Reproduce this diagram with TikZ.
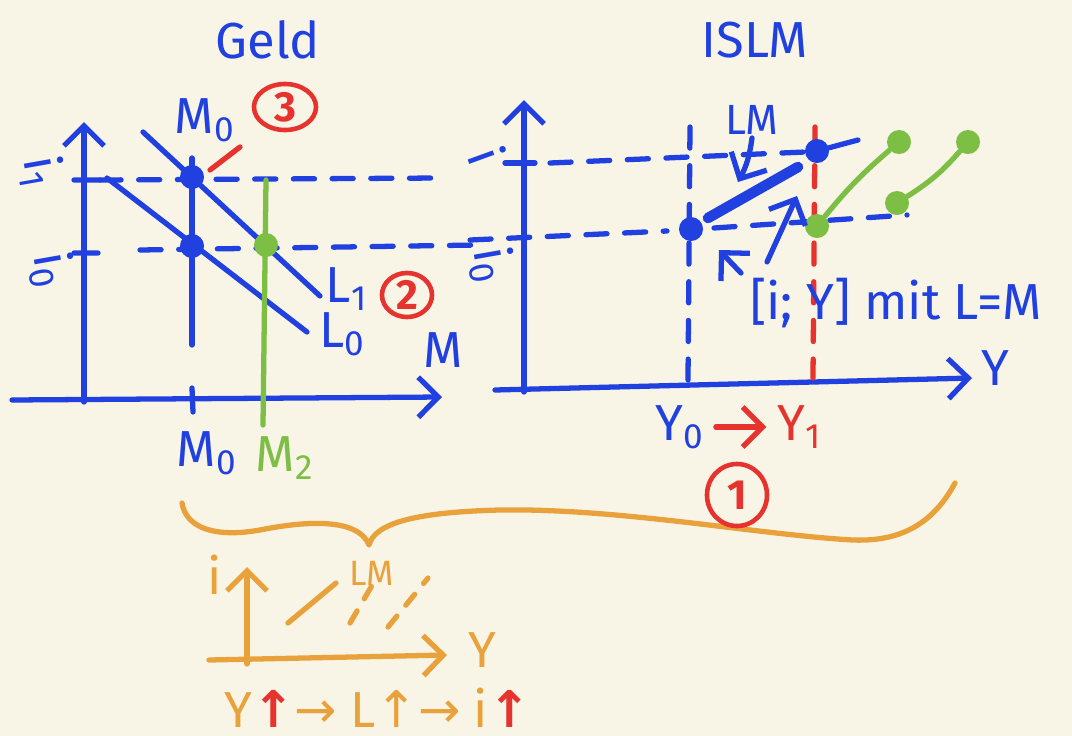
\documentclass[tikz,border=0pt]{standalone}
\usepackage{fontspec}
\setmainfont{Fira Sans}
\newfontfamily\arrowfont{DejaVu Sans}
\usetikzlibrary{arrows.meta,positioning,shapes.geometric}
\definecolor{Paper}{HTML}{F8F4E6}
\definecolor{Ink}{HTML}{2140E0}
\definecolor{Leaf}{HTML}{7DBE45}
\definecolor{Alarm}{HTML}{E6332E}
\definecolor{Amber}{HTML}{E9A23B}

\begin{document}
\begin{tikzpicture}[x=0.01cm,y=-0.01cm,
    pen/.style={line width=1.5pt,line cap=round,line join=round},
    axis/.style={pen,-{Straight Barb[length=2mm,width=4mm]}},
    guide/.style={pen,dash pattern=on 6pt off 5pt},
    dot/.style={circle,fill=#1,inner sep=0pt,minimum size=2.4mm},
    lbl/.style={font=\Large,text=Ink,inner sep=1pt},
    tag/.style={ellipse,draw=Alarm,text=Alarm,line width=1.3pt,inner sep=0pt,
      font=\large\bfseries}
  ]
    \fill[Paper] (0,0) rectangle (1072,736);
    \useasboundingbox (0,0) rectangle (1072,736);

    % Geld
    \node[lbl] (tgeld) at (268,40) {Geld};
    \coordinate (gx0) at (12,400);
    \coordinate (gx1) at (442,397);
    \coordinate (gy0) at (84,402);
    \coordinate (gy1) at (84,122);
    \draw[axis,Ink] (gx0)--(gx1);
    \draw[axis,Ink] (gy0)--(gy1);
    \draw[pen,Ink] (74,180)--(100,180) (74,253)--(98,253) (192,388)--(193,412);
    \draw[guide,Ink] (100,180)--(440,178);
    \draw[guide,Ink] (140,250)--(478,245);
    \draw[pen,Ink] (192,158)--(192,345);
    \draw[pen,Ink] (143,132)--(320,296);
    \draw[pen,Ink] (107,178)--(307,332);
    \draw[pen,Leaf] (266,180)--(263,425);
    \node[dot=Ink] (ga) at (192,177) {};
    \node[dot=Ink] (gb) at (192,246) {};
    \node[dot=Leaf] (gc) at (266,245) {};
    \node[lbl,rotate=-80] (li1) at (42,172) {i\textsubscript{1}};
    \node[lbl,rotate=-80] (li0) at (52,270) {i\textsubscript{0}};
    \node[lbl] (lm0t) at (205,120) {M\textsubscript{0}};
    \node[lbl] (lm0b) at (207,453) {M\textsubscript{0}};
    \node[lbl,text=Leaf] (lm2) at (285,458) {M\textsubscript{2}};
    \node[lbl] (ll1) at (347,289) {L\textsubscript{1}};
    \node[lbl] (ll0) at (343,334) {L\textsubscript{0}};
    \node[lbl] (lm) at (443,350) {M};
    \node[tag,minimum width=0.62cm,minimum height=0.46cm] (t3) at (285,107) {3};
    \draw[pen,Alarm] (210,170)--(240,147);
    \node[tag,minimum width=0.5cm,minimum height=0.44cm] (t2) at (407,295) {2};

    % IS LM
    \node[lbl] (tislm) at (755,40) {ISLM};
    \coordinate (rx0) at (495,390);
    \coordinate (rx1) at (972,378);
    \coordinate (ry0) at (524,392);
    \coordinate (ry1) at (524,100);
    \draw[axis,Ink] (rx0)--(rx1);
    \draw[axis,Ink] (ry0)--(ry1);
    \draw[pen,Ink] (505,163)--(535,163);
    \draw[guide,Ink] (550,163)--(805,152);
    \draw[guide,Ink] (470,240)--(667,231);
    \draw[guide,Ink] (714,228)--(907,215);
    \draw[guide,Ink] (690,127)--(688,380);
    \draw[guide,Alarm] (815,127)--(813,378);
    \node[dot=Ink] (ra) at (691,229) {};
    \node[dot=Ink] (rb) at (817,151) {};
    \node[dot=Leaf] (rc) at (817,226) {};
    \node[dot=Leaf] (rd) at (899,142) {};
    \node[dot=Leaf] (re) at (897,203) {};
    \node[dot=Leaf] (rf) at (968,142) {};
    \draw[pen,Ink] (rb)--(858,140);
    \draw[line width=3pt,line cap=round,Ink] (708,218)--(798,167);
    \draw[pen,Leaf] (rc) to[bend left=5] (rd);
    \draw[pen,Leaf] (re) to[bend right=8] (rf);
    \draw[axis,Ink] (752,138) to[bend left=10] (738,182);
    \draw[axis,Ink] (767,262)--(797,196);
    \draw[axis,Ink] (741,273)--(719,250);
    \node[lbl,font=\large] (llm) at (752,120) {LM};
    \node[lbl,rotate=-70] (ri1) at (487,155) {i};
    \node[lbl,rotate=-80] (ri0) at (492,265) {i\textsubscript{0}};
    \node[lbl] (ly) at (995,368) {Y};
    \node[lbl,anchor=west] (lpair) at (746,303) {[i; Y] mit L=M};
    \node[lbl] (ly0) at (680,427) {Y\textsubscript{0}};
    \node[lbl,text=Alarm] (ly1) at (800,427) {Y\textsubscript{1}};
    \draw[pen,Alarm,-{Straight Barb[length=2mm,width=4mm]},
      shorten <=2pt,shorten >=2pt] (ly0)--(ly1);

    % brace and small sketch
    \draw[pen,Amber] (182,503) .. controls (186,528) and (215,538) .. (260,530)
      .. controls (320,518) and (360,522) .. (369,545)
      .. controls (375,522) and (420,512) .. (500,510)
      .. controls (620,508) and (760,535) .. (853,540)
      .. controls (905,542) and (935,520) .. (955,483);
    \node[tag,minimum width=0.6cm,minimum height=0.62cm] (t1) at (737,495) {1};
    \coordinate (sx0) at (209,660);
    \coordinate (sx1) at (447,655);
    \coordinate (sy0) at (247,664);
    \coordinate (sy1) at (247,567);
    \draw[axis,Amber] (sx0)--(sx1);
    \draw[axis,Amber] (sy0)--(sy1);
    \draw[pen,Amber] (288,623)--(336,583);
    \draw[pen,Amber,dash pattern=on 4pt off 4pt] (350,623)--(377,577);
    \draw[pen,Amber,dash pattern=on 4pt off 4pt] (388,627)--(428,578);
    \node[lbl,text=Amber] (si) at (215,575) {i};
    \node[lbl,text=Amber,font=\normalsize] (slm) at (372,573) {LM};
    \node[lbl,text=Amber] (sy) at (482,650) {Y};
    \node[lbl,text=Amber,anchor=west] (chain) at (220,708)
      {Y{\arrowfont\bfseries\textcolor{Alarm}{↑}}{\arrowfont →} L{\arrowfont ↑}{\arrowfont →}
       i{\arrowfont\bfseries\textcolor{Alarm}{↑}}};
  \end{tikzpicture}
\end{document}
